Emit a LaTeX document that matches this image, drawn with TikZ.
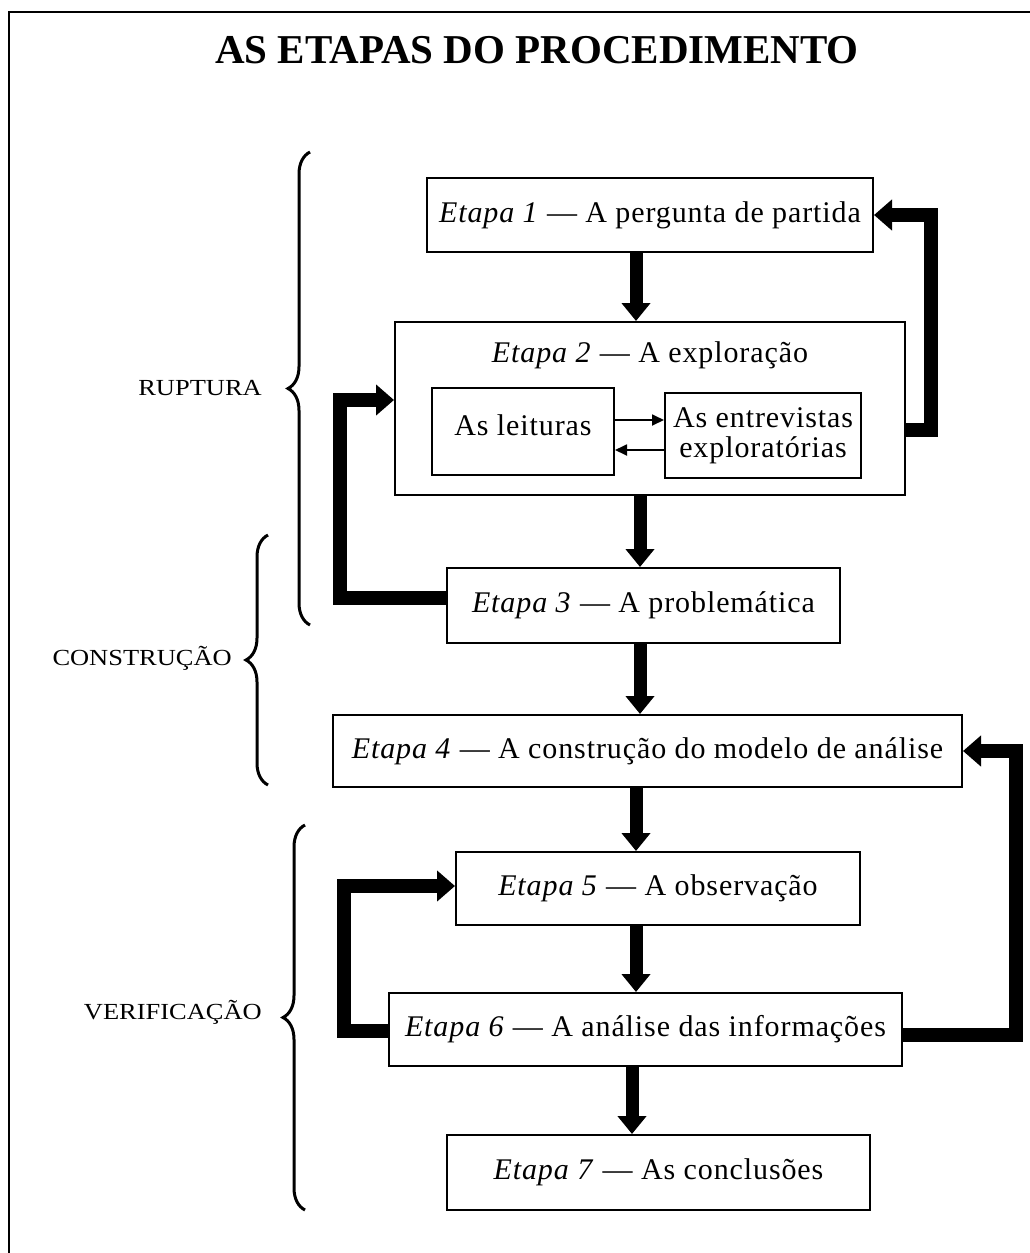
\documentclass[tikz,border=0pt]{standalone}
\usepackage{fontspec}
\usepackage{graphicx}
\setmainfont{Liberation Serif}
\newfontfamily\boxfont{Liberation Serif}[LetterSpace=3]
\usetikzlibrary{arrows.meta,decorations.pathreplacing}
\begin{document}
\begin{tikzpicture}[x=1pt,y=-1pt,
  stepbox/.style={draw, line width=2pt, inner sep=0pt, align=center,
    font=\boxfont\fontsize{30}{30}\selectfont},
  boxtext/.style={inner sep=0pt, font=\boxfont\fontsize{30}{30}\selectfont},
  bigarrow/.style={line width=13pt, -{Triangle[width=28pt,length=18pt]}},
  fbarrow/.style={line width=14pt, line join=miter, -{Triangle[width=30pt,length=18pt]}},
  thinarrow/.style={line width=1.8pt, -{Triangle[width=11pt,length=12pt]}},
  bracestyle/.style={line width=3pt, decorate, decoration={brace, amplitude=22pt}},
  phase/.style={font=\fontsize{23}{24}\selectfont, anchor=east, inner sep=0pt}
]
\useasboundingbox (0,0) rectangle (1030,1253);
% frame
\draw[line width=2.5pt] (9,1253) -- (9,12) -- (1030,12);

% title
\node[font=\fontsize{41}{44}\selectfont\bfseries] (title) at (537,50) {AS ETAPAS DO PROCEDIMENTO};

% boxes
\node[stepbox, minimum width=446pt, minimum height=74pt] (b1) at (650,215) {\textit{Etapa 1} — A pergunta de partida};
\node[stepbox, minimum width=510pt, minimum height=173pt] (b2) at (650,408.5) {};
\node[boxtext] (t2) at (650,355) {\textit{Etapa 2} — A exploração};
\node[stepbox, minimum width=182pt, minimum height=87pt] (lei) at (523,431.5) {};
\node[boxtext] (leit) at (523,425) {As leituras};
\node[stepbox, minimum width=196pt, minimum height=85pt] (ent) at (763,435.5) {As entrevistas\\exploratórias};
\node[stepbox, minimum width=393pt, minimum height=75pt] (b3) at (643.5,605.5) {\textit{Etapa 3} — A problemática};
\node[stepbox, minimum width=629pt, minimum height=72pt] (b4) at (647.5,751) {\textit{Etapa 4} — A construção do modelo de análise};
\node[stepbox, minimum width=404pt, minimum height=73pt] (b5) at (658,888.5) {\textit{Etapa 5} — A observação};
\node[stepbox, minimum width=513pt, minimum height=73pt] (b6) at (645.5,1029.5) {\textit{Etapa 6} — A análise das informações};
\node[stepbox, minimum width=423pt, minimum height=75pt] (b7) at (658.5,1172.5) {\textit{Etapa 7} — As conclusões};

% vertical arrows
\draw[bigarrow] ([xshift=-14pt]b1.south) -- ([xshift=-14pt]b1.south |- b2.north);
\draw[bigarrow] ([xshift=-10pt]b2.south) -- ([xshift=-10pt]b2.south |- b3.north);
\draw[bigarrow] ([xshift=-3.5pt]b3.south) -- ([xshift=-3.5pt]b3.south |- b4.north);
\draw[bigarrow] ([xshift=-11.5pt]b4.south) -- ([xshift=-11.5pt]b4.south |- b5.north);
\draw[bigarrow] ([xshift=-22pt]b5.south) -- ([xshift=-22pt]b5.south |- b6.north);
\draw[bigarrow] ([xshift=-13.5pt]b6.south) -- ([xshift=-13.5pt]b6.south |- b7.north);

% inner arrows
\draw[thinarrow] ([yshift=11.5pt]lei.east) -- ([yshift=11.5pt]lei.east -| ent.west);
\draw[thinarrow] ([yshift=-14.5pt]ent.west) -- ([yshift=-14.5pt]ent.west -| lei.east);

% feedback arrows
\draw[fbarrow] ([yshift=-21.5pt]b2.east) -- ++(25pt,0) |- (b1.east);
\draw[fbarrow] ([yshift=7.5pt]b3.west) -- ++(-106pt,0) |- ([yshift=8.5pt]b2.west);
\draw[fbarrow] ([yshift=-1pt]b6.west) -- ++(-44pt,0) |- ([yshift=2.5pt]b5.west);
\draw[fbarrow] ([yshift=-5pt]b6.east) -- ++(113pt,0) |- (b4.east);

% braces
\draw[bracestyle] (310,625) -- (310,152);
\draw[bracestyle] (268,785) -- (268,535);
\draw[bracestyle] (305,1210) -- (305,825);

% phase labels
\node[phase] (rup) at (262,388) {\scalebox{1.15}[1]{RUPTURA}};
\node[phase] (con) at (232,658) {\scalebox{1.15}[1]{CONSTRUÇÃO}};
\node[phase] (ver) at (262,1012) {\scalebox{1.15}[1]{VERIFICAÇÃO}};
\end{tikzpicture}
\end{document}
